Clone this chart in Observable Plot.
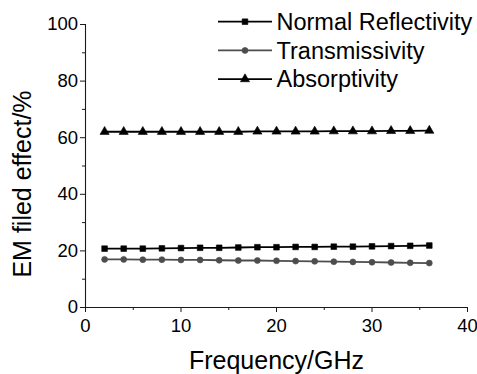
<!DOCTYPE html>
<html>
<head>
<meta charset="utf-8">
<script src="https://cdn.jsdelivr.net/npm/d3@7"></script>
<script src="https://cdn.jsdelivr.net/npm/@observablehq/plot@0.6"></script>
<style>
  html, body { margin: 0; padding: 0; background: #fff; }
  #chart { position: relative; width: 477px; height: 374px; }
</style>
</head>
<body>
<div id="chart"></div>
<script>
// ---- data ----
const frequency = [2, 4, 6, 8, 10, 12, 14, 16, 18, 20, 22, 24, 26, 28, 30, 32, 34, 36];
const reflectivity = [20.8, 20.8, 20.8, 20.9, 21.0, 21.1, 21.1, 21.2, 21.3, 21.3, 21.4, 21.4, 21.5, 21.5, 21.6, 21.7, 21.8, 21.9];
const transmissivity = [17.0, 17.0, 16.9, 16.9, 16.8, 16.8, 16.7, 16.6, 16.6, 16.5, 16.4, 16.3, 16.2, 16.1, 16.0, 15.9, 15.8, 15.7];
const absorptivity = [62.1, 62.1, 62.1, 62.1, 62.1, 62.1, 62.1, 62.1, 62.2, 62.2, 62.2, 62.2, 62.3, 62.3, 62.3, 62.4, 62.4, 62.5];
const seriesNames = ["Normal Reflectivity", "Transmissivity", "Absorptivity"];
const xTicks = [0, 10, 20, 30, 40];
const xMinorTicks = [5, 15, 25, 35];
const yTicks = [0, 20, 40, 60, 80, 100];
const yMinorTicks = [10, 30, 50, 70, 90];
const xLabel = "Frequency/GHz";
const yLabel = "EM filed effect/%";

// ---- styles ----
const styles = [
  {color: "#000000", symbol: "square", r: 3.2},
  {color: "#4d4d4d", symbol: "circle", r: 3.0},
  {color: "#000000", symbol: "triangle", r: 3.4}
];
const valuesBySeries = [reflectivity, transmissivity, absorptivity];
const rows = [];
valuesBySeries.forEach((vals, s) => vals.forEach((v, i) => rows.push({series: seriesNames[s], s, x: frequency[i], y: v})));

const font = "'Liberation Sans', Arial, Helvetica, sans-serif";
const axisColor = "#1a1a1a";

const marks = [
  Plot.ruleX([0], {stroke: axisColor, strokeWidth: 1.1}),
  Plot.ruleY([0], {stroke: axisColor, strokeWidth: 1.1}),
  Plot.axisX(xTicks, {tickSize: 5, tickPadding: 6, fontSize: 18.5, stroke: axisColor, fill: "#000", label: null}),
  Plot.axisX(xMinorTicks, {tickSize: 3, tickFormat: () => "", stroke: axisColor, label: null}),
  Plot.axisY(yTicks, {tickSize: 5, tickPadding: 2.5, fontSize: 18.5, stroke: axisColor, fill: "#000", label: null}),
  Plot.axisY(yMinorTicks, {tickSize: 3, tickFormat: () => "", stroke: axisColor, label: null}),
  Plot.text([xLabel], {frameAnchor: "bottom", textAnchor: "middle", lineAnchor: "bottom", dy: 61.5, fontSize: 25, fill: "#000"}),
  Plot.text([yLabel], {frameAnchor: "left", textAnchor: "middle", rotate: -90, lineAnchor: "bottom", dx: -55, dy: 18, fontSize: 25, fill: "#000"})
];
styles.forEach((st, s) => {
  const d = rows.filter(r => r.s === s);
  marks.push(Plot.line(d, {x: "x", y: "y", stroke: st.color, strokeWidth: 1.8}));
  marks.push(Plot.dot(d, {x: "x", y: "y", symbol: st.symbol, r: st.r, fill: st.color, stroke: st.color, strokeWidth: 0.6}));
});

const svg = Plot.plot({
  width: 477,
  height: 374,
  marginLeft: 85,
  marginRight: 10,
  marginTop: 24,
  marginBottom: 67,
  style: {fontFamily: font, background: "#fff", overflow: "visible"},
  x: {domain: [0, 40], axis: null},
  y: {domain: [0, 100], axis: null},
  marks
});
document.getElementById("chart").appendChild(svg);

// ---- legend (drawn into the plot svg) ----
const lg = d3.select(svg).append("g").attr("font-family", font).attr("font-size", 23.5).attr("text-anchor", "start");
const symMap = {square: d3.symbolSquare, circle: d3.symbolCircle, triangle: d3.symbolTriangle};
seriesNames.forEach((name, i) => {
  const st = styles[i];
  const y = 21.7 + i * 28.7;
  lg.append("line").attr("x1", 218).attr("x2", 272).attr("y1", y).attr("y2", y)
    .attr("stroke", st.color).attr("stroke-width", 1.8);
  lg.append("path").attr("transform", `translate(245,${y})`)
    .attr("d", d3.symbol(symMap[st.symbol], Math.PI * st.r * st.r)())
    .attr("fill", st.color).attr("stroke", st.color).attr("stroke-width", 0.6);
  lg.append("text").attr("x", 276.5).attr("y", y).attr("dy", "0.35em").attr("fill", "#000").text(name);
});
</script>
</body>
</html>
